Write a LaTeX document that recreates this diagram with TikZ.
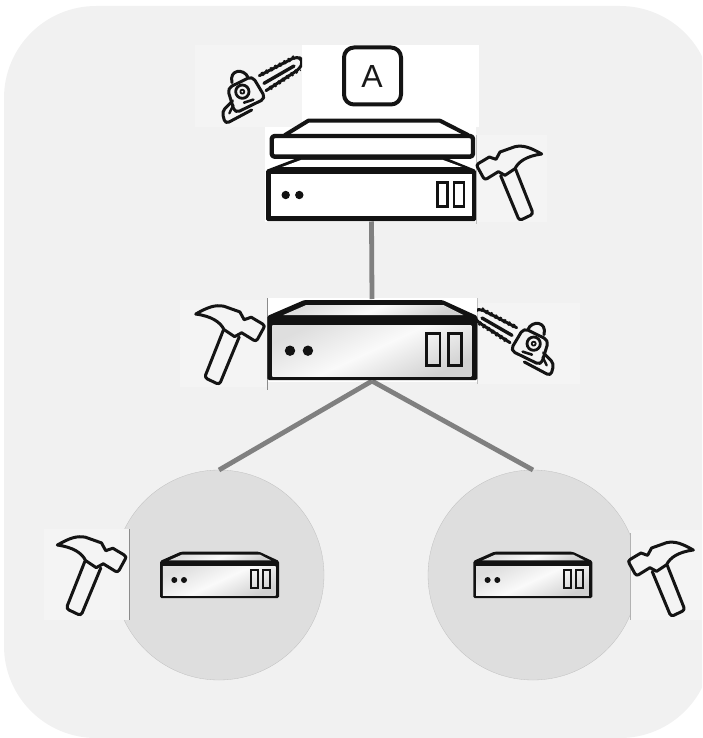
\documentclass[tikz,border=0pt]{standalone}
\usepackage{fontspec}
\setmainfont{Liberation Sans}
\tikzset{
  ink/.style={draw=black!92,line width=3pt,line join=round,line cap=round},
  holder/.style={inner sep=0pt,outer sep=0pt,draw=none,rectangle},
  disc/.style={circle,fill=black!13,draw=black!25,line width=.3pt,minimum size=210pt,inner sep=0pt,outer sep=0pt},
  link/.style={draw=black!50,line width=4.8pt},
  metal/.style={left color=black!13,right color=black!18,middle color=black!2,shading angle=25},
  plain/.style={fill=white},
  seam/.style={draw=black!45,line width=.8pt}
}
% hammer, written in the coordinates of a 3x crop
\newcommand{\hammershape}{%
  \draw[ink] (1055,372) .. controls (1020,352) and (1000,345) .. (975,350)
     -- (930,366) -- (918,388) -- (898,381) -- (866,400) .. controls (860,404) and (860,408) .. (863,412) -- (880,443) .. controls (883,448) and (887,448) .. (891,446) -- (925,425) -- (945,436) -- (975,416)
     .. controls (985,395) and (1010,378) .. (1055,372) -- cycle;
  \draw[ink,rounded corners=3pt] (932,437) -- (988,572) -- (1030,552) -- (977,418);
}
% chainsaw, same kind of coordinates
\newcommand{\sawshape}{%
  \draw[ink,rounded corners=5pt] (208,137) -- (322,78) -- (340,92) -- (330,116) -- (228,182);
  \draw[black!92,line width=4.2pt,dash pattern=on 2pt off 3pt] (215,133) -- (320,78);
  \draw[black!92,line width=4.2pt,dash pattern=on 2pt off 3pt] (240,175) -- (330,117);
  \draw[ink,line width=3.4pt] (222,160) -- (312,108);
  \draw[ink,rounded corners=5pt] (112,175) -- (187,138) -- (227,205) -- (135,250) -- cycle;
  \draw[ink] (126,158) .. controls (116,118) and (162,114) .. (174,142);
  \draw[ink,line width=2.8pt] (157,185) circle[radius=20];
  \draw[ink,line width=1.8pt] (157,185) circle[radius=6];
  \draw[ink,line width=2.6pt] (162,218) -- (190,209);
  \draw[ink,rounded corners=4pt] (128,212) -- (96,245) -- (106,282) -- (185,240);
  \draw[ink,line width=2.4pt] (118,250) -- (130,225);
}
% server: #1 x, #2 y, #3 xscale, #4 yscale, #5 fill style
\newcommand{\serverbody}[5]{%
  \begin{scope}[shift={(#1,#2)},xscale=#3,yscale=#4]
    \fill[black!93,rounded corners=1.5pt] (0,16) -- (37,0) -- (175,0) -- (210,16) -- (210,80) -- (0,80) -- cycle;
    \path[#5] (16,15) -- (39,5) -- (176,5) -- (196,15) -- cycle;
    \path[#5] (5,25) rectangle (204,76);
  \end{scope}
}
\newcommand{\serverface}[8]{% #1 dot1x #2 dot2x #3 doty #4 r #5 slot1x #6 slot2x #7 slot top #8 line
  \fill[black!93] (#1,#3) circle[radius=#4] (#2,#3) circle[radius=#4];
  \draw[black!93,line width=#8] (#5,#7) rectangle ++(\slotw,\sloth) (#6,#7) rectangle ++(\slotw,\sloth);
}
\begin{document}
\begin{tikzpicture}[x=1pt,y=-1pt]
  \useasboundingbox (0,0) rectangle (702,738);
  \clip (0,0) rectangle (702,738);
  \fill[black!5.5,rounded corners=92pt] (4,6) rectangle (712,738);
  % discs
  \node[disc] (dl) at (219,575) {};
  \node[disc] (dr) at (533,575) {};
  % pasted backdrops
  \fill[black!4.5] (44,529) rectangle (129.5,620);
  \fill[black!4.5] (630,530) rectangle (702,620);
  \draw[seam] (129.5,529) -- (129.5,620);
  \draw[seam,draw=black!30] (630,533) -- (630,620);
  \fill[black!4.5] (195,45) rectangle (302,127);
  \fill[black!4.5] (476,135) rectangle (547,222);
  \fill[black!4.5] (180,300) rectangle (267,387);
  \fill[black!4.5] (477,303) rectangle (580,384);
  \fill[white] (302,45) rectangle (479,127);
  \fill[white] (265,127) rectangle (476,222);
  \fill[white] (267,298) rectangle (477,382);
  \draw[seam] (267.5,298) -- (267.5,390);
  \draw[seam,draw=black!25] (477,298) -- (477,384);
  \draw[seam,draw=black!25] (476.5,135) -- (476.5,224);
  % server placeholders, for the links
  \node[holder,minimum width=209pt,minimum height=63pt] (srvA) at (371.5,190) {};
  \node[holder,minimum width=210pt,minimum height=82pt] (srvB) at (372,340) {};
  % links
  \draw[link] (srvA.south) -- (srvB.north);
  \draw[link] (srvB.south) -- (dl.north);
  \draw[link] (srvB.south) -- (dr.north);
  % top server
  \fill[black!93,rounded corners=1.5pt] (266,170) -- (300,157) -- (444,157) -- (476,170) -- (476,221) -- (266,221) -- cycle;
  \fill[white] (282,167) -- (301,160) -- (443,160) -- (462,167) -- cycle;
  \fill[white] (270.5,174) rectangle (472,216);
  % other servers
  \serverbody{267.3}{300}{1}{1}{metal}
  \serverbody{160}{551.7}{.567}{.58}{metal}
  \serverbody{473.3}{551.7}{.567}{.58}{metal}
  % faces
  \def\slotw{10}\def\sloth{24}
  \serverface{285.7}{299.3}{195}{4.2}{437.3}{454}{182.7}{2.6pt}
  \def\slotw{13.3}\def\sloth{32}
  \serverface{290}{307.9}{350.7}{5.2}{426.7}{448.3}{333.3}{2.6pt}
  \def\slotw{7}\def\sloth{18.3}
  \serverface{174.3}{184}{580}{3}{250.7}{262.8}{570}{1.9pt}
  \serverface{487.6}{497.3}{580}{3}{564}{576.1}{570}{1.9pt}
  % lid of the top server
  \draw[ink,line width=4pt,fill=white] (285,135) -- (308.3,120.7) -- (440,120.7) -- (468,135);
  \draw[ink,line width=4.4pt,fill=white,rounded corners=3pt] (271.7,136) rectangle (473,156.7);
  % letter tile
  \draw[ink,line width=4pt,rounded corners=10pt] (344,47.5) rectangle (401,104.5);
  \node[holder,font=\fontsize{32}{32}\selectfont,text=black!90] (tileA) at (372,76) {A};
  % hammers
  \begin{scope}[shift={(190,30)},xscale=1/3,yscale=1/3]\hammershape\end{scope}
  \begin{scope}[shift={(568.5,182.6)},xscale=-1.06/3,yscale=1.06/3]\hammershape\end{scope}
  \begin{scope}[shift={(430.1,413.6)},xscale=-1.06/3,yscale=1.06/3]\hammershape\end{scope}
  \begin{scope}[shift={(341.6,426)},xscale=1/3,yscale=1/3]\hammershape\end{scope}
  % chainsaws
  \begin{scope}
    \clip (195,45) rectangle (302,127);
    \begin{scope}[shift={(190,30)},xscale=1/3,yscale=1/3]\sawshape\end{scope}
  \end{scope}
  \begin{scope}
    \clip (477,303) rectangle (580,384);
    \begin{scope}[shift={(586,282)},xscale=-1/3,yscale=1/3]\sawshape\end{scope}
  \end{scope}
\end{tikzpicture}
\end{document}
